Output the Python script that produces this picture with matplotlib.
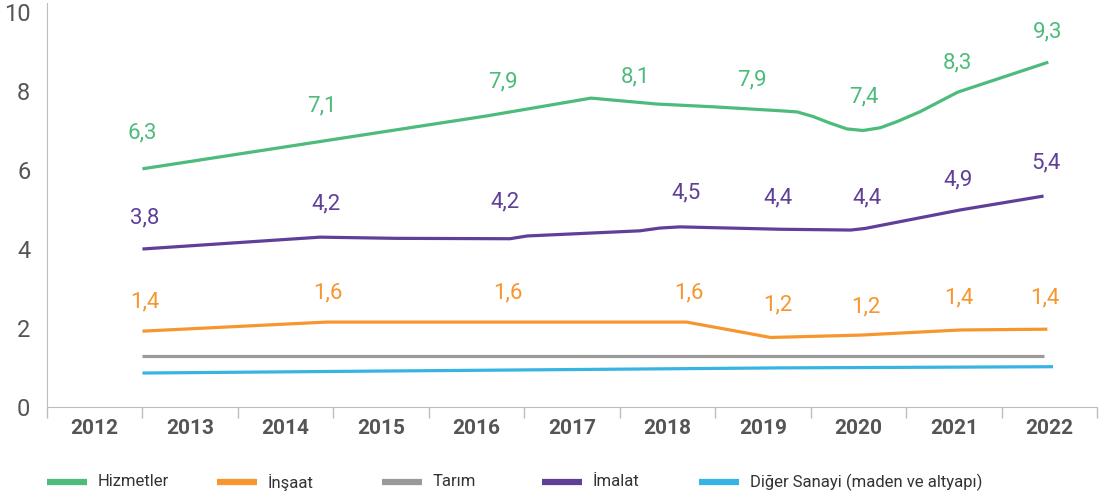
import matplotlib.pyplot as plt
from matplotlib.lines import Line2D

plt.rcParams['font.family'] = ['Roboto', 'DejaVu Sans']

# kategoriler
yillar = ["2012", "2013", "2014", "2015", "2016", "2017", "2018", "2019", "2020", "2021", "2022"]

# çizgilerin köşe noktaları (x: yıl indeksi, y: değer)
hizmet_x = [0.50, 4.11, 5.20, 5.89, 6.48, 7.18, 7.36, 7.53, 7.70, 7.88, 8.05, 8.23, 8.41, 8.65, 9.04, 9.99]
hizmet_y = [6.03, 7.37, 7.82, 7.67, 7.60, 7.50, 7.47, 7.35, 7.19, 7.04, 7.00, 7.07, 7.23, 7.48, 7.97, 8.73]

imalat_x = [0.50, 2.36, 3.15, 4.35, 4.53, 5.71, 5.92, 6.13, 7.18, 7.92, 8.07, 9.07, 9.94]
imalat_y = [4.00, 4.30, 4.27, 4.26, 4.33, 4.46, 4.53, 4.56, 4.50, 4.48, 4.52, 4.99, 5.34]

insaat_x = [0.50, 2.43, 6.20, 6.70, 7.08, 8.02, 9.07, 9.98]
insaat_y = [1.92, 2.15, 2.15, 1.93, 1.76, 1.82, 1.95, 1.97]

tarim_x = [0.50, 9.95]
tarim_y = [1.29, 1.29]

diger_x = [0.50, 2.99, 7.18, 10.04]
diger_y = [0.86, 0.91, 0.99, 1.02]

# veri etiketleri
hizmet_etiket = ["6,3", "7,1", "7,9", "8,1", "7,9", "7,4", "8,3", "9,3"]
hizmet_etiket_x = [0.50, 2.38, 4.28, 5.66, 6.88, 8.06, 9.04, 9.98]
hizmet_etiket_y = [6.94, 7.62, 8.23, 8.35, 8.28, 7.85, 8.71, 9.49]

imalat_etiket = ["3,8", "4,2", "4,2", "4,5", "4,4", "4,4", "4,9", "5,4"]
imalat_etiket_x = [0.52, 2.42, 4.30, 6.20, 7.16, 8.09, 9.04, 9.97]
imalat_etiket_y = [4.78, 5.14, 5.19, 5.42, 5.29, 5.29, 5.75, 6.18]

insaat_etiket = ["1,4", "1,6", "1,6", "1,6", "1,2", "1,2", "1,4", "1,4"]
insaat_etiket_x = [0.52, 2.44, 4.33, 6.22, 7.16, 8.08, 9.05, 9.95]
insaat_etiket_y = [2.66, 2.89, 2.89, 2.89, 2.58, 2.53, 2.76, 2.76]

yesil = "#4dbb7b"
turuncu = "#f7962e"
gri = "#9a9a9a"
mor = "#5f3f98"
mavi = "#38b4e2"

fig = plt.figure(figsize=(11.03, 4.99), dpi=100)
ax = fig.add_axes([47 / 1103, 1 - 407 / 499, 1050 / 1103, 404 / 499])

ax.plot(hizmet_x, hizmet_y, color=yesil, lw=2.3, solid_capstyle="butt", solid_joinstyle="round")
ax.plot(imalat_x, imalat_y, color=mor, lw=2.3, solid_capstyle="butt", solid_joinstyle="round")
ax.plot(insaat_x, insaat_y, color=turuncu, lw=2.3, solid_capstyle="butt", solid_joinstyle="round")
ax.plot(tarim_x, tarim_y, color=gri, lw=2.3, solid_capstyle="butt")
ax.plot(diger_x, diger_y, color=mavi, lw=2.3, solid_capstyle="butt")

for metin, x, y in zip(hizmet_etiket, hizmet_etiket_x, hizmet_etiket_y):
    ax.text(x, y, metin, color=yesil, fontsize=16, ha="center", va="center")
for metin, x, y in zip(imalat_etiket, imalat_etiket_x, imalat_etiket_y):
    ax.text(x, y, metin, color=mor, fontsize=16, ha="center", va="center")
for metin, x, y in zip(insaat_etiket, insaat_etiket_x, insaat_etiket_y):
    ax.text(x, y, metin, color=turuncu, fontsize=16, ha="center", va="center")

ax.set_xlim(-0.5, 10.5)
ax.set_ylim(0, 404 / 39.5)
ax.set_yticks([0, 2, 4, 6, 8, 10])
ax.set_yticklabels(["0", "2", "4", "6", "8", "10"])
ax.tick_params(axis="y", length=0, pad=12, labelsize=17, labelcolor="#555555")

ax.set_xticks([i - 0.5 for i in range(len(yillar) + 1)])
ax.set_xticklabels([])
ax.tick_params(axis="x", which="major", length=8, width=1, color="#bdbdbd", direction="out")
ax.set_xticks(range(len(yillar)), minor=True)
ax.set_xticklabels(yillar, minor=True, fontsize=15, fontweight="bold", color="#555555")
ax.tick_params(axis="x", which="minor", length=0, pad=9)

for s in ["top", "right"]:
    ax.spines[s].set_visible(False)
ax.spines["left"].set_color("#bdbdbd")
ax.spines["bottom"].set_color("#bdbdbd")

# lejant
lejant = ["Hizmetler", "İnşaat", "Tarım", "İmalat", "Diğer Sanayi (maden ve altyapı)"]
lejant_renk = [yesil, turuncu, gri, mor, mavi]
lejant_x = [47, 217, 382, 542, 699]
for isim, renk, x in zip(lejant, lejant_renk, lejant_x):
    fig.add_artist(Line2D([x / 1103, (x + 40) / 1103], [1 - 482 / 499, 1 - 482 / 499],
                          color=renk, lw=4.5, solid_capstyle="butt"))
    fig.text((x + 51) / 1103, 1 - 482 / 499, isim, fontsize=12, color="#333333",
             ha="left", va="center")

fig.savefig("out.png", dpi=100)
